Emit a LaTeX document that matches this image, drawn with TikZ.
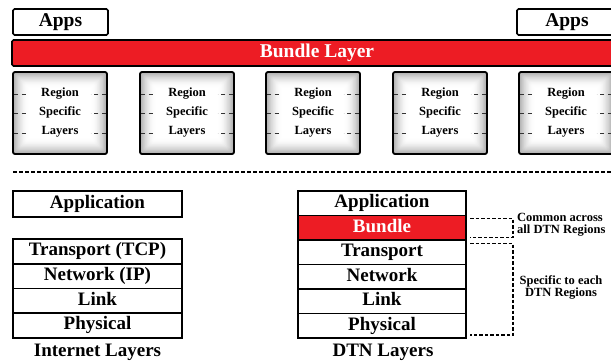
\documentclass[tikz,border=0pt]{standalone}
\usepackage{fontspec}
\usetikzlibrary{positioning}
\setmainfont{Liberation Serif}[BoldFont={Liberation Serif Bold}]
\definecolor{bred}{HTML}{ED1C24}
\begin{document}
\begin{tikzpicture}[x=1pt,y=-1pt,
  box/.style={draw=black,line width=1.6pt,rounded corners=1.5pt,inner sep=0pt,font=\bfseries\fontsize{19.5}{20}\selectfont},
  layer/.style={draw=black,line width=1.6pt,inner sep=0pt,outer sep=0pt,minimum width=168pt,text height=12.5pt,text depth=4pt,font=\bfseries\fontsize{19}{19}\selectfont},
  region/.style={draw=black,line width=1.8pt,rounded corners=2pt,minimum width=94pt,minimum height=82pt,inner sep=0pt,
     align=center,font=\bfseries\fontsize{12.5}{19}\selectfont,
     path picture={\foreach \k in {0,...,18}{%
        \pgfmathsetmacro\g{32*(1-\k/18)^1.8}%
        \fill[black!\g] ([shift={(\k*0.85pt,-\k*0.85pt)}]path picture bounding box.north west)
           rectangle ([shift={(-\k*0.85pt,\k*0.85pt)}]path picture bounding box.south east);}}},
  rdash/.style={line width=1pt,dash pattern=on 4pt off 3.5pt,black!80},
  bracket/.style={line width=1.5pt,dash pattern=on 3.5pt off 2pt},
  note/.style={font=\bfseries\fontsize{12.5}{11.5}\selectfont,inner sep=0pt}]
\useasboundingbox (0,0) rectangle (611,362);
\clip (0,0) rectangle (611,362);
% top
\node[box,minimum width=95pt,minimum height=26pt] (apps1) at (60.5,22) {Apps};
\node[box,minimum width=100pt,minimum height=26pt] (apps2) at (567,22) {Apps};
\node[box,fill=bred,text=white,minimum width=610pt,minimum height=26pt] (bl) at (317,53) {Bundle Layer};
\foreach \i/\x in {1/60,2/187,3/313,4/440,5/566}{
  \node[region] (r\i) at (\x,113) {Region\\Specific\\Layers};
  \foreach \dy in {-20,0,19}{
    \draw[rdash] ([xshift=2pt,yshift=\dy]r\i.west) -- ++(14,0);
    \draw[rdash] ([xshift=-2pt,yshift=\dy]r\i.east) -- ++(-15,0);
  }
}
\coordinate (dl) at (13,172);
\coordinate (dr) at (615,172);
\draw[line width=1.6pt,dash pattern=on 4pt off 2pt] (dl) -- (dr);
% internet layers
\node[layer,minimum width=169pt,minimum height=26pt] (iapp) at (97.5,204) {Application};
\node[layer,minimum width=169pt,minimum height=24.75pt] (itr) at (97.5,251.4) {Transport (TCP)};
\node[layer,minimum width=169pt,minimum height=24.75pt,below=0pt of itr] (inet) {Network (IP)};
\node[layer,minimum width=169pt,minimum height=24.75pt,below=0pt of inet] (ilink) {Link};
\node[layer,minimum width=169pt,minimum height=24.75pt,below=0pt of ilink] (iphy) {Physical};
\node[font=\bfseries\fontsize{19}{19}\selectfont,inner sep=0pt] (ilab) at (97.5,352) {Internet Layers};
% dtn layers
\node[layer,minimum height=24.5pt] (dapp) at (382,203.25) {Application};
\node[layer,minimum height=24.5pt,fill=bred,text=white,below=0pt of dapp] (dbun) {Bundle};
\node[layer,minimum height=24.5pt,below=0pt of dbun] (dtr) {Transport};
\node[layer,minimum height=24.5pt,below=0pt of dtr] (dnet) {Network};
\node[layer,minimum height=24.5pt,below=0pt of dnet] (dlink) {Link};
\node[layer,minimum height=24.5pt,below=0pt of dlink] (dphy) {Physical};
\node[font=\bfseries\fontsize{19}{19}\selectfont,inner sep=0pt] (dlab) at (383,352) {DTN Layers};
% brackets
\draw[bracket] ([xshift=4pt,yshift=-3pt]dbun.north east) -- ++(43,0) |- ([xshift=4pt,yshift=2.5pt]dbun.south east);
\draw[bracket] ([xshift=4pt,yshift=-3.5pt]dtr.north east) -- ++(43,0) |- ([xshift=4pt,yshift=3pt]dphy.south east);
\node[note,anchor=west,align=left] (c1) at (517,224.5) {Common across\\all DTN Regions};
\node[note,align=center] (c2) at (561,287.5) {Specific to each\\DTN Regions};
\end{tikzpicture}
\end{document}
